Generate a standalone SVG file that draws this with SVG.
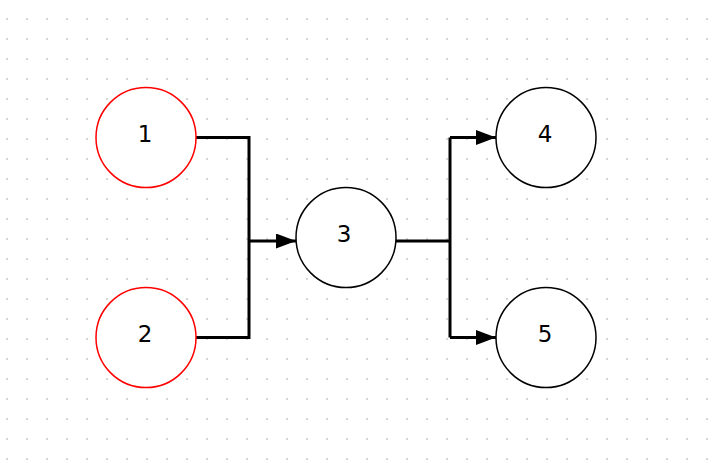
<svg xmlns="http://www.w3.org/2000/svg" width="710" height="462" viewBox="0 0 710 462">
  <defs>
    <pattern id="dots" x="6" y="-2" width="20" height="20" patternUnits="userSpaceOnUse">
      <rect x="0" y="0" width="2" height="2" fill="#d6d6d6"/>
    </pattern>
    <marker id="arrow" viewBox="0 0 20 15" refX="20" refY="7.5" markerWidth="20" markerHeight="15" markerUnits="userSpaceOnUse" orient="auto">
      <path d="M0,0 L20,7.5 L0,15 Z" fill="#000"/>
    </marker>
  </defs>
  <style>
    .node circle { fill: #fff; stroke: #000; stroke-width: 1.5; }
    .node.source circle { stroke: #ff0000; }
    .node text { font-family: "DejaVu Sans", "Liberation Sans", sans-serif; font-size: 23px; fill: #000; text-anchor: middle; }
    .edge { fill: none; stroke: #000; stroke-width: 3; }
  </style>

  <rect width="710" height="462" fill="#fff"/>
  <rect width="710" height="462" fill="url(#dots)"/>

  <g id="connectors">
    <path class="edge" d="M196,137.5 H249 V337.5 H196"/>
    <path class="edge" d="M249,241 H296" marker-end="url(#arrow)"/>
    <path class="edge" d="M396,241 H450"/>
    <path class="edge" d="M450,137.5 V337.5"/>
    <path class="edge" d="M450,137.5 H496" marker-end="url(#arrow)"/>
    <path class="edge" d="M450,337.5 H496" marker-end="url(#arrow)"/>
  </g>

  <g id="node-1" class="node source">
    <circle cx="146" cy="137.5" r="50"/>
    <text x="145" y="142">1</text>
  </g>
  <g id="node-2" class="node source">
    <circle cx="146" cy="337.5" r="50"/>
    <text x="145" y="342">2</text>
  </g>
  <g id="node-3" class="node">
    <circle cx="346" cy="237.5" r="50"/>
    <text x="344" y="242">3</text>
  </g>
  <g id="node-4" class="node">
    <circle cx="546" cy="137.5" r="50"/>
    <text x="545" y="142">4</text>
  </g>
  <g id="node-5" class="node">
    <circle cx="546" cy="337.5" r="50"/>
    <text x="545" y="342">5</text>
  </g>
</svg>
